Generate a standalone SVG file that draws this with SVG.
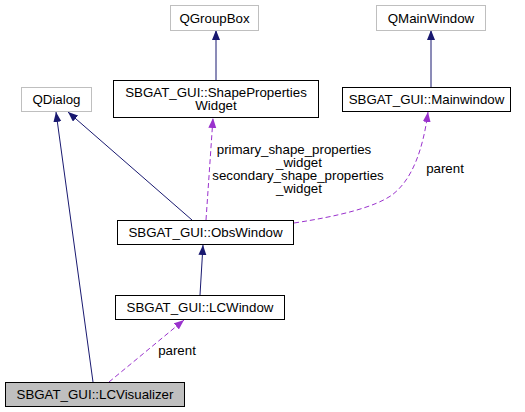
<svg xmlns="http://www.w3.org/2000/svg" width="525" height="412" viewBox="0 0 525 412">
<style>
text { font-family: "Liberation Sans", Arial, sans-serif; font-size: 13.3px; fill: #000; text-anchor: middle; }
.ext { fill: #fff; stroke: #bfbfbf; stroke-width: 1; }
.cls { fill: #fff; stroke: #000; stroke-width: 1; }
.cur { fill: #bfbfbf; stroke: #000; stroke-width: 1; }
.inh { fill: none; stroke: #191970; stroke-width: 1; marker-end: url(#ab); }
.use { fill: none; stroke: #9a32cd; stroke-width: 1; stroke-dasharray: 5,3; marker-end: url(#ap); }
</style>
<defs>
<marker id="ab" markerUnits="userSpaceOnUse" markerWidth="11" markerHeight="9" refX="10" refY="4" orient="auto"><path d="M0,0 L10,4 L0,8 z" fill="#191970"/></marker>
<marker id="ap" markerUnits="userSpaceOnUse" markerWidth="11" markerHeight="9" refX="10" refY="4" orient="auto"><path d="M0,0 L10,4 L0,8 z" fill="#9a32cd"/></marker>
</defs>
<rect width="525" height="412" fill="#fff"/>
<g id="edges">
<path class="inh" d="M216,80 L216,30"/>
<path class="inh" d="M431,87 L431,30"/>
<path class="inh" d="M93,382 L56,112"/>
<path class="inh" d="M192,220 L68,112"/>
<path class="use" d="M206,220 L213,118"/>
<path class="use" d="M294,223 C340,216 375,207 392,195 C412,180 423,150 428,112"/>
<path class="inh" d="M200,295 L203,245"/>
<path class="use" d="M109,382 L184,320"/>
<text x="294" y="154">primary_shape_properties</text>
<text x="299" y="167">_widget</text>
<text x="298" y="180">secondary_shape_properties</text>
<text x="299" y="193">_widget</text>
<text x="445" y="173">parent</text>
<text x="177" y="355">parent</text>
</g>
<g id="QGroupBox"><rect class="ext" x="170.5" y="5.5" width="88" height="25"/><text x="214.5" y="23">QGroupBox</text></g>
<g id="QMainWindow"><rect class="ext" x="376.5" y="5.5" width="109" height="25"/><text x="431" y="23">QMainWindow</text></g>
<g id="QDialog"><rect class="ext" x="21.5" y="87.5" width="70" height="24"/><text x="56.5" y="104">QDialog</text></g>
<g id="ShapePropertiesWidget"><rect class="cls" x="113.5" y="80.5" width="205" height="37"/><text x="216" y="97">SBGAT_GUI::ShapeProperties</text><text x="216" y="110">Widget</text></g>
<g id="Mainwindow"><rect class="cls" x="342.5" y="87.5" width="168" height="24"/><text x="426.5" y="104">SBGAT_GUI::Mainwindow</text></g>
<g id="ObsWindow"><rect class="cls" x="117.5" y="220.5" width="176" height="24"/><text x="205.5" y="237">SBGAT_GUI::ObsWindow</text></g>
<g id="LCWindow"><rect class="cls" x="115.5" y="295.5" width="169" height="24"/><text x="200" y="312">SBGAT_GUI::LCWindow</text></g>
<g id="LCVisualizer"><rect class="cur" x="5.5" y="382.5" width="179" height="24"/><text x="95" y="399">SBGAT_GUI::LCVisualizer</text></g>
</svg>
